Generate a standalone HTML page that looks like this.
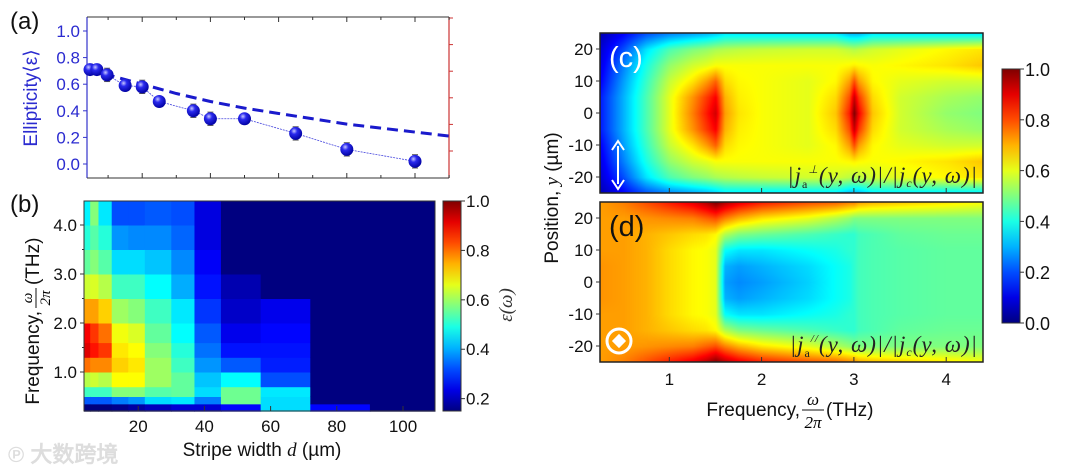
<!DOCTYPE html>
<html><head><meta charset="utf-8"><style>
body{margin:0;background:#fff;}
#wrap{position:relative;width:1080px;height:469px;overflow:hidden;font-family:"Liberation Sans",sans-serif;}
canvas{position:absolute;}
svg{position:absolute;left:0;top:0;}
text{font-family:"Liberation Sans",sans-serif;}
.s{font-family:"Liberation Serif",serif;font-style:italic;}
</style></head><body>
<div id="wrap">
<canvas id="cvC" width="383" height="160" style="left:600px;top:33px"></canvas>
<canvas id="cvD" width="383" height="160" style="left:600px;top:202px"></canvas>
<svg id="svg" width="1080" height="469"></svg>
</div>
<script>
// ---- panel (a) data ----
const aWidths=[4.7,6.7,9.7,15,20,25,35,40,50,65,80,100];
const aEll=[0.71,0.71,0.67,0.59,0.58,0.47,0.40,0.34,0.34,0.23,0.11,0.02];
const aErr=[0.04,0.04,0.05,0.04,0.05,0.03,0.05,0.05,0.04,0.05,0.05,0.05];
const aFitX=[4,10,20,30,40,50,60,70,80,90,100,110];
const aFitY=[0.72,0.67,0.60,0.53,0.47,0.42,0.38,0.34,0.30,0.27,0.24,0.21];
const aYTicks=["0.0","0.2","0.4","0.6","0.8","1.0"];
// ---- panel (b) data ----
const bEdges=[3.5,5.5,8,12,17,22,30,37,45,57,72,90,110];
const bFreqEdges=[0.2,0.35,0.5,0.7,1.0,1.3,1.6,2.0,2.5,3.0,3.5,4.0,4.5];
const bVals=[
[0.15,0.33,0.52,0.62,0.8,0.92,0.9,0.76,0.64,0.55,0.5,0.46],
[0.15,0.33,0.52,0.64,0.78,0.88,0.85,0.76,0.65,0.58,0.54,0.58],
[0.15,0.33,0.52,0.62,0.78,0.85,0.8,0.72,0.62,0.54,0.5,0.45],
[0.16,0.36,0.58,0.68,0.72,0.7,0.67,0.6,0.52,0.44,0.38,0.32],
[0.18,0.38,0.58,0.68,0.7,0.68,0.65,0.58,0.52,0.44,0.37,0.32],
[0.2,0.44,0.54,0.6,0.6,0.58,0.55,0.52,0.47,0.42,0.37,0.33],
[0.22,0.45,0.55,0.55,0.52,0.5,0.47,0.45,0.4,0.37,0.34,0.32],
[0.22,0.36,0.44,0.42,0.38,0.35,0.33,0.3,0.27,0.25,0.23,0.23],
[0.26,0.56,0.56,0.47,0.33,0.27,0.24,0.21,0.19,0.15,0.15,0.15],
[0.44,0.44,0.45,0.32,0.28,0.27,0.26,0.24,0.15,0.15,0.15,0.15],
[0.26,0.15,0.15,0.15,0.15,0.15,0.15,0.15,0.15,0.15,0.15,0.15],
[0.15,0.15,0.15,0.15,0.15,0.15,0.15,0.15,0.15,0.15,0.15,0.15]];
const bXTicks=[20,40,60,80,100];
const bYTicks=["1.0","2.0","3.0","4.0"];
const bCbTicks=["0.2","0.4","0.6","0.8","1.0"];
// ---- panels (c),(d) data (rows y=0,5,10,15,20,25, mirrored) ----
const cdFreqs=[0.25,0.5,0.75,1.0,1.25,1.4,1.5,1.6,1.75,2.0,2.5,2.8,2.95,3.0,3.05,3.2,3.5,4.0,4.4];
const cdRowsY=[0,5,10,15,20,25];
const cVals=[
[0.15,0.3,0.45,0.6,0.75,0.85,0.92,0.72,0.65,0.62,0.6,0.68,0.85,1.0,0.88,0.68,0.58,0.52,0.5],
[0.15,0.3,0.45,0.6,0.73,0.82,0.88,0.7,0.64,0.62,0.6,0.66,0.8,0.93,0.82,0.66,0.58,0.54,0.52],
[0.12,0.28,0.43,0.57,0.65,0.72,0.78,0.66,0.63,0.62,0.6,0.63,0.72,0.8,0.72,0.63,0.6,0.58,0.58],
[0.1,0.25,0.4,0.52,0.58,0.6,0.62,0.62,0.62,0.62,0.62,0.62,0.63,0.64,0.63,0.62,0.63,0.65,0.68],
[0.08,0.2,0.35,0.45,0.5,0.52,0.54,0.55,0.56,0.57,0.58,0.58,0.56,0.55,0.56,0.58,0.6,0.63,0.65],
[0.05,0.12,0.2,0.25,0.28,0.3,0.32,0.35,0.35,0.35,0.35,0.35,0.3,0.3,0.3,0.35,0.35,0.35,0.35]];
const dVals=[
[0.73,0.72,0.7,0.66,0.63,0.62,0.6,0.28,0.26,0.28,0.33,0.38,0.4,0.42,0.44,0.45,0.46,0.47,0.47],
[0.73,0.72,0.7,0.66,0.63,0.62,0.6,0.3,0.28,0.3,0.34,0.38,0.4,0.42,0.44,0.45,0.46,0.47,0.47],
[0.72,0.72,0.7,0.66,0.63,0.62,0.6,0.38,0.35,0.35,0.38,0.4,0.42,0.42,0.44,0.45,0.46,0.47,0.47],
[0.72,0.72,0.7,0.68,0.66,0.65,0.63,0.55,0.5,0.48,0.45,0.43,0.42,0.42,0.44,0.45,0.47,0.48,0.48],
[0.72,0.72,0.73,0.74,0.75,0.78,0.8,0.75,0.7,0.65,0.6,0.55,0.52,0.5,0.5,0.5,0.5,0.5,0.5],
[0.72,0.75,0.8,0.85,0.9,0.95,1.0,0.95,0.9,0.85,0.8,0.78,0.75,0.75,0.72,0.7,0.68,0.65,0.62]];
const cdXTicks=[1,2,3,4];
const cdYTicks=[-20,-10,0,10,20];
const cdCbTicks=["0.0","0.2","0.4","0.6","0.8","1.0"];

function jet(v){v=Math.max(0,Math.min(1,v));
 const r=Math.max(0,Math.min(1,1.5-Math.abs(4*v-3))),g=Math.max(0,Math.min(1,1.5-Math.abs(4*v-2))),b=Math.max(0,Math.min(1,1.5-Math.abs(4*v-1)));
 return [Math.round(r*255),Math.round(g*255),Math.round(b*255)];}
function jetS(v){const c=jet(v);return `rgb(${c[0]},${c[1]},${c[2]})`;}
const NS="http://www.w3.org/2000/svg",svg=document.getElementById('svg');
function el(tag,attrs,parent,txt){const e=document.createElementNS(NS,tag);for(const k in attrs)e.setAttribute(k,attrs[k]);if(txt!==undefined)e.textContent=txt;(parent||svg).appendChild(e);return e;}

// ===== Panel a =====
const ax=d=>74+3.41*d, ay=v=>164-133*v;
const ga=el('g',{});
el('line',{x1:87,y1:17,x2:87,y2:178,stroke:'#3333cc','stroke-width':1.2},ga);
el('line',{x1:449,y1:17,x2:449,y2:178,stroke:'#cc3333','stroke-width':1.2},ga);
el('line',{x1:87,y1:178,x2:449,y2:178,stroke:'#333','stroke-width':1},ga);
el('line',{x1:87,y1:17,x2:449,y2:17,stroke:'#333','stroke-width':1},ga);
aYTicks.forEach((t,i)=>{const y=ay(+t);
 el('line',{x1:87,y1:y,x2:83,y2:y,stroke:'#3333cc'},ga);
 el('line',{x1:449,y1:y-13,x2:453,y2:y-13,stroke:'#cc3333'},ga);
 const tl=el('text',{x:80,y:y+6,'text-anchor':'end','font-size':17,fill:'#2b2bd0'},ga,t);
 });
for(let d=10;d<=110;d+=10){const x=ax(d);const L=d%20==0?5:3;
 el('line',{x1:x,y1:178,x2:x,y2:178-L,stroke:'#333'},ga);el('line',{x1:x,y1:17,x2:x,y2:17+L,stroke:'#333'},ga);}
let pf='';aFitX.forEach((d,i)=>pf+=(i?'L':'M')+ax(d)+','+ay(aFitY[i]));
const fit=el('path',{d:pf,fill:'none',stroke:'#1a1acc','stroke-width':3,'stroke-dasharray':'11,6'},ga);

let pd='';aWidths.forEach((d,i)=>pd+=(i?'L':'M')+ax(d)+','+ay(aEll[i]));
el('path',{d:pd,fill:'none',stroke:'#4444dd','stroke-width':0.8,'stroke-dasharray':'2,1'},ga);
const defs=el('defs',{});const rg=el('radialGradient',{id:'ball',cx:'0.38',cy:'0.32',r:'0.7'},defs);
el('stop',{offset:'0',  'stop-color':'#c8c8ff'},rg);el('stop',{offset:'0.35','stop-color':'#2a2aee'},rg);el('stop',{offset:'1','stop-color':'#0000a0'},rg);
aWidths.forEach((d,i)=>{const x=ax(d),y=ay(aEll[i]),e=aErr[i]*133;
 el('line',{x1:x,y1:y-e,x2:x,y2:y+e,stroke:'#555'},ga);
 el('line',{x1:x-3,y1:y-e,x2:x+3,y2:y-e,stroke:'#555'},ga);el('line',{x1:x-3,y1:y+e,x2:x+3,y2:y+e,stroke:'#555'},ga);
 const c=el('circle',{cx:x,cy:y,r:6.5,fill:'url(#ball)'},ga);
 });
el('text',{x:10,y:29,'font-size':24,fill:'#111'},ga,'(a)');
el('text',{x:0,y:0,'font-size':19,fill:'#2b2bd0',transform:'translate(37,98) rotate(-90)','text-anchor':'middle'},ga,'Ellipticity⟨ε⟩');

// ===== Panel b =====
const bx=d=>72+3.31*d, by=f=>372-49*(f-1);
const gb=el('g',{});
bVals.forEach((col,i)=>col.forEach((v,j)=>{
 const x0=Math.max(84,bx(bEdges[i])),x1=Math.min(435,bx(bEdges[i+1]));
 const r=el('rect',{x:x0,y:by(bFreqEdges[j+1]),width:x1-x0+0.5,height:by(bFreqEdges[j])-by(bFreqEdges[j+1])+0.5,fill:jetS((v-0.15)/0.85)},gb);
 }));
el('rect',{x:84,y:201,width:351,height:210,fill:'none',stroke:'#333'},gb);
bXTicks.forEach(d=>{const x=bx(d);el('line',{x1:x,y1:411,x2:x,y2:406,stroke:'#333'},gb);
 el('text',{x:x,y:432,'text-anchor':'middle','font-size':17,fill:'#111'},gb,d);});
bYTicks.forEach(t=>{const y=by(+t);el('line',{x1:84,y1:y,x2:80,y2:y,stroke:'#333'},gb);
 el('text',{x:77,y:y+6,'text-anchor':'end','font-size':17,fill:'#111'},gb,t);});
[1.5,2.5,3.5].forEach(f=>el('line',{x1:84,y1:by(f),x2:82,y2:by(f),stroke:'#333'},gb));
el('text',{x:10,y:212,'font-size':24,fill:'#111'},gb,'(b)');
const byl=el('g',{transform:'translate(39,305) rotate(-90)'},gb);
el('text',{x:-6,y:0,'text-anchor':'end','font-size':19,fill:'#111'},byl,'Frequency,');
el('text',{x:7,y:-7,'text-anchor':'middle','font-size':15,class:'s'},byl,'ω');
el('line',{x1:-3,y1:-3,x2:17,y2:-3,stroke:'#111'},byl);
el('text',{x:7,y:11,'text-anchor':'middle','font-size':15,class:'s'},byl,'2π');
el('text',{x:20,y:0,'font-size':19,fill:'#111'},byl,'(THz)');
const xlb=el('text',{x:262,y:456,'text-anchor':'middle','font-size':19,fill:'#111'},gb);
xlb.innerHTML='Stripe width <tspan class="s" font-family="Liberation Serif">d</tspan> (µm)';
// colorbar b
const lgb=el('linearGradient',{id:'cbb',x1:0,y1:1,x2:0,y2:0},defs);
for(let k=0;k<=10;k++)el('stop',{offset:k/10,'stop-color':jetS(k/10)},lgb);
const cbb=el('rect',{x:443,y:201,width:18,height:210,fill:'url(#cbb)',stroke:'#333'},gb);

bCbTicks.forEach(t=>{const y=411-210*((+t)-0.15)/0.85;el('line',{x1:461,y1:y,x2:465,y2:y,stroke:'#333'},gb);
 el('text',{x:466,y:y+6,'font-size':17,fill:'#111'},gb,t);});
el('text',{x:0,y:0,'font-size':19,class:'s',fill:'#333',transform:'translate(512,305) rotate(-90)','text-anchor':'middle'},gb,'ε(ω)');
el('text',{x:8,y:462,'font-size':22,fill:'#ddd','font-weight':'bold','font-family':'"Noto Sans CJK SC",sans-serif'},gb,'℗ 大数跨境');

// ===== Panels c, d =====
function sample(vals,f,y){const ya=Math.abs(y);
 let i=0;while(i<cdFreqs.length-2&&f>cdFreqs[i+1])i++;
 let j=0;while(j<cdRowsY.length-2&&ya>cdRowsY[j+1])j++;
 let tf=(f-cdFreqs[i])/(cdFreqs[i+1]-cdFreqs[i]);tf=Math.max(0,Math.min(1,tf));
 let ty=(ya-cdRowsY[j])/(cdRowsY[j+1]-cdRowsY[j]);ty=Math.max(0,Math.min(1,ty));
 const a=vals[j][i]*(1-tf)+vals[j][i+1]*tf,b=vals[j+1][i]*(1-tf)+vals[j+1][i+1]*tf;return a*(1-ty)+b*ty;}
function drawMap(id,vals){const cv=document.getElementById(id),ctx=cv.getContext('2d'),img=ctx.createImageData(383,160);
 for(let py=0;py<160;py++)for(let px=0;px<383;px++){const f=0.25+px/92.3,y=25-py*50/160;const c=jet(sample(vals,f,y));const k=(py*383+px)*4;
  img.data[k]=c[0];img.data[k+1]=c[1];img.data[k+2]=c[2];img.data[k+3]=255;}
 ctx.putImageData(img,0,0);}
drawMap('cvC',cVals);drawMap('cvD',dVals);
const cx=f=>577+92.3*f;
const gc=el('g',{});
[[33,113,'(c)'],[202,282,'(d)']].forEach(([top,zero,lab])=>{
 el('rect',{x:600,y:top,width:383,height:160,fill:'none',stroke:'#222','stroke-width':1.5},gc);
 cdYTicks.forEach(t=>{const y=zero-3.2*t;el('line',{x1:600,y1:y,x2:596,y2:y,stroke:'#333'},gc);
  el('text',{x:593,y:y+6,'text-anchor':'end','font-size':17,fill:'#111'},gc,t);});
 cdXTicks.forEach(f=>{el('line',{x1:cx(f),y1:top+160,x2:cx(f),y2:top+155,stroke:'#333'},gc);});
 el('text',{x:609,y:top+34,'font-size':29,fill:lab=='(c)'?'#fff':'#111'},gc,lab);
 const fl=el('text',{x:978,y:top+150,'text-anchor':'end','font-size':23,class:'s',fill:'#222','letter-spacing':'1'},gc);
 fl.innerHTML='|<tspan>j</tspan><tspan font-size="12" dy="5" font-style="normal">a</tspan><tspan font-size="11" dy="-15">'+(lab=='(c)'?'⊥':'//')+'</tspan><tspan dy="10">(y, ω)|/|j</tspan><tspan font-size="12" dy="4">c</tspan><tspan dy="-4">(y, ω)|</tspan>';
});
cdXTicks.forEach(f=>el('text',{x:cx(f),y:385,'text-anchor':'middle','font-size':17,fill:'#111'},gc,f));
// arrow c
el('line',{x1:618,y1:146,x2:618,y2:184,stroke:'#fff','stroke-width':2},gc);
el('path',{d:'M612,150 L618,141 L624,150 M612,180 L618,189 L624,180',fill:'none',stroke:'#fff','stroke-width':2},gc);
// symbol d
el('circle',{cx:619,cy:341,r:12,fill:'none',stroke:'#fff','stroke-width':3},gc);
el('rect',{x:614,y:336,width:10,height:10,fill:'#fff',transform:'rotate(45 619 341)'},gc);
const ryl=el('text',{x:0,y:0,'font-size':19,fill:'#111',transform:'translate(558,198) rotate(-90)','text-anchor':'middle'},gc);
ryl.innerHTML='Position, <tspan class="s" font-family="Liberation Serif">y</tspan> (µm)';
const rxl=el('g',{},gc);
el('text',{x:800,y:416,'text-anchor':'end','font-size':19,fill:'#111'},rxl,'Frequency,');
el('text',{x:813,y:405,'text-anchor':'middle','font-size':17,class:'s'},rxl,'ω');
el('line',{x1:802,y1:410,x2:824,y2:410,stroke:'#111'},rxl);
el('text',{x:813,y:428,'text-anchor':'middle','font-size':17,class:'s'},rxl,'2π');
el('text',{x:826,y:416,'font-size':19,fill:'#111'},rxl,'(THz)');
const lgc=el('linearGradient',{id:'cbc',x1:0,y1:1,x2:0,y2:0},defs);
for(let k=0;k<=10;k++)el('stop',{offset:k/10,'stop-color':jetS(k/10)},lgc);
const cbc=el('rect',{x:1002,y:69,width:18,height:254,fill:'url(#cbc)',stroke:'#333'},gc);

cdCbTicks.forEach(t=>{const y=323-254*(+t);el('line',{x1:1020,y1:y,x2:1024,y2:y,stroke:'#333'},gc);
 el('text',{x:1025,y:y+7,'font-size':18,fill:'#111'},gc,t);});
</script>
</body></html>
